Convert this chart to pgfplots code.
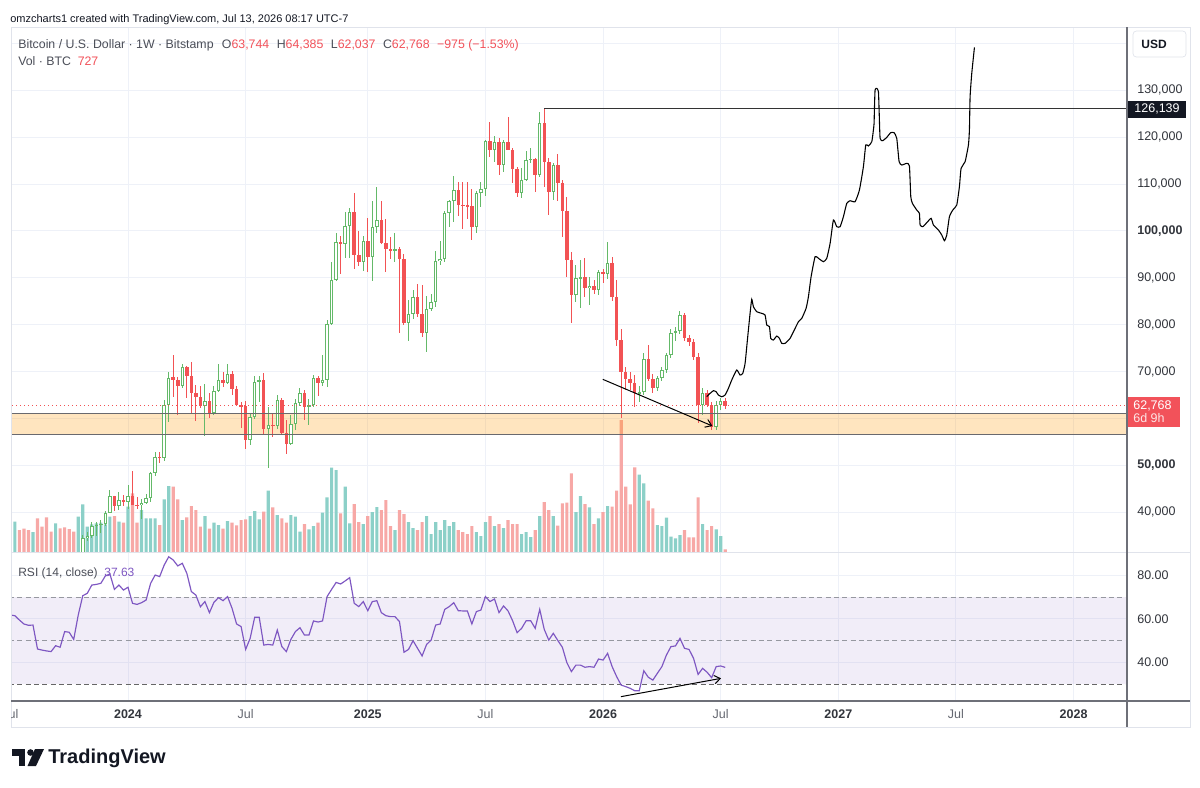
\documentclass[border=0pt]{standalone}
\usepackage{fontspec}
\setmainfont{Liberation Sans}
\usepackage{pgfplots}
\pgfplotsset{compat=1.18}
\usepackage{pgfplotstable}
\usetikzlibrary{arrows.meta}
\newcommand{\fsz}[1]{\fontsize{#1}{#1}\selectfont}
\definecolor{tvg}{RGB}{100,185,105}
\definecolor{tvr}{RGB}{242,82,84}
\definecolor{vg}{RGB}{140,208,200}
\definecolor{vr}{RGB}{247,168,166}
\definecolor{gridc}{RGB}{238,241,248}
\definecolor{framec}{RGB}{224,227,235}
\definecolor{axc}{RGB}{110,112,120}
\definecolor{txt}{RGB}{19,23,34}
\definecolor{lg}{RGB}{75,78,88}
\definecolor{lbl}{RGB}{50,53,60}
\definecolor{julc}{RGB}{100,103,112}
\definecolor{rsic}{RGB}{126,87,194}
\definecolor{tvorange}{RGB}{255,152,0}
\definecolor{zline}{RGB}{105,105,110}
\definecolor{redlab}{RGB}{242,82,90}
\definecolor{dashc}{RGB}{150,152,160}

% candles: k open high low close (thousand USD)
\pgfplotstableread{
k o h l c
-10 30.0 35.2 29.9 34.5
-9 34.5 35.9 33.9 35.0
-8 35.0 37.9 34.5 37.1
-7 37.1 37.9 35.0 37.4
-6 37.4 38.4 35.7 37.5
-5 37.5 40.2 37.2 39.9
-4 39.9 44.7 39.9 43.6
-2 41.3 44.3 40.6 42.6
0 42.2 45.8 40.8 43.6
3 41.5 42.9 38.5 42.0
4 42.0 43.9 41.8 43.0
5 43.0 48.6 42.3 48.3
6 48.3 52.8 47.7 51.9
8 51.7 63.9 50.9 62.9
9 62.9 69.9 59.3 68.6
12 66.9 71.6 66.6 71.0
17 62.7 67.4 56.3 63.8
19 61.2 67.0 60.7 65.9
20 65.9 71.6 65.8 68.2
22 67.5 71.6 67.4 69.5
27 55.4 61.2 54.3 60.3
28 60.3 69.1 60.0 67.9
29 67.9 69.1 63.5 68.3
31 57.8 62.5 49.5 58.7
33 58.5 65.0 57.8 64.0
36 54.6 60.7 54.5 58.8
37 58.8 64.1 57.5 63.3
38 63.3 66.5 62.7 65.4
40 62.5 64.2 58.6 62.9
41 62.9 69.4 62.5 68.7
43 67.6 73.5 66.9 68.3
44 68.3 81.0 66.7 80.1
45 80.1 93.4 80.0 89.5
46 89.5 99.5 89.4 97.6
48 97.2 104.0 94.3 101.1
49 101.1 105.0 94.2 104.0
52 93.3 99.0 91.5 97.9
54 94.5 106.3 89.3 100.9
55 100.9 109.3 99.5 102.3
59 95.8 99.5 93.3 96.2
62 80.4 85.3 76.6 82.4
63 82.4 87.5 81.2 86.0
66 78.2 86.1 74.3 83.3
67 83.3 86.5 83.0 84.9
68 84.9 95.8 83.9 93.5
69 93.5 97.9 92.8 94.0
70 94.0 104.3 93.4 103.8
71 103.8 106.6 100.8 106.3
72 106.3 111.7 102.0 108.7
77 100.8 108.5 99.6 108.0
78 108.0 110.5 105.1 108.9
79 108.9 119.5 107.5 119.1
81 117.3 120.2 114.7 119.0
83 114.1 119.3 112.6 119.0
87 108.0 113.4 107.0 110.9
88 110.9 117.1 110.6 115.1
89 115.1 117.7 114.4 115.4
91 112.0 125.4 111.5 123.1
94 108.4 114.5 106.7 114.1
99 86.3 92.8 84.9 89.9
100 89.9 93.8 83.5 90.2
102 87.8 90.2 84.2 88.3
104 87.4 91.7 86.4 91.2
106 90.8 97.6 89.8 93.2
113 65.4 67.0 63.5 65.6
114 65.6 74.0 65.0 72.8
117 66.5 69.0 65.8 68.6
118 68.6 71.0 68.0 70.4
119 70.4 74.0 69.8 73.6
120 73.6 79.0 73.0 78.2
121 78.2 79.5 76.5 78.6
122 78.6 83.0 78.0 82.1
127 62.9 66.5 60.8 65.4
130 58.3 63.8 57.6 63.0
131 63.0 64.5 61.8 63.744
}\candG

\pgfplotstableread{
k o h l c
-3 43.6 43.6 40.2 41.3
-1 42.6 43.8 41.4 42.2
1 43.6 48.8 41.5 41.6
2 41.6 43.2 40.7 41.5
7 51.9 52.9 50.6 51.7
10 68.8 73.6 64.6 68.3
11 68.3 68.9 60.8 66.9
13 71.0 71.3 64.5 69.1
14 69.1 72.0 61.2 65.5
15 65.5 67.2 59.5 64.6
16 64.6 66.9 62.3 62.7
18 63.8 65.5 60.2 61.2
21 68.2 70.0 66.7 67.5
23 69.5 70.1 65.1 66.3
24 66.3 66.9 62.6 62.9
25 62.9 63.5 58.0 62.6
26 62.6 63.8 53.5 55.4
30 68.3 69.7 56.7 57.8
32 58.7 61.0 56.1 58.5
34 64.0 64.5 56.7 56.9
35 56.9 59.7 52.5 54.6
39 65.4 66.1 59.7 62.5
42 68.7 69.1 64.9 67.6
47 97.6 99.0 90.8 97.2
50 104.0 108.0 92.0 94.9
51 94.9 99.9 92.6 93.3
53 97.9 102.7 91.2 94.5
56 102.3 106.5 97.2 97.4
57 97.4 102.5 91.2 96.1
58 96.1 98.8 94.1 95.8
60 96.2 96.5 78.2 94.0
61 94.0 95.0 80.0 80.4
64 86.0 88.8 81.6 82.3
65 82.3 88.5 77.5 78.2
73 108.7 110.4 103.1 105.5
74 105.5 110.5 100.4 105.4
75 105.4 110.4 102.6 105.3
76 105.3 108.9 98.1 100.8
80 119.1 123.2 115.7 117.3
82 119.0 119.8 111.9 114.1
84 119.0 124.2 117.2 117.3
85 117.3 117.6 110.2 113.2
86 113.2 113.7 107.3 108.0
90 115.4 115.5 108.4 112.0
92 123.1 126.14 109.4 114.8
93 114.8 115.6 103.4 108.4
95 114.1 116.4 106.3 110.3
96 110.3 110.8 98.8 104.3
97 104.3 107.3 90.2 93.8
98 93.8 95.6 80.3 86.3
101 90.2 94.3 86.0 87.8
103 88.3 89.5 86.5 87.4
105 91.2 92.0 89.0 90.8
107 93.2 94.5 85.0 86.0
108 86.0 89.5 75.5 76.8
109 76.8 79.0 60.2 70.0
110 70.0 71.1 66.1 68.4
111 68.4 69.9 66.0 67.5
112 67.5 69.3 62.5 65.4
115 72.8 75.7 68.0 68.5
116 68.5 69.5 65.5 66.5
123 82.1 82.6 76.5 77.1
124 77.1 77.8 75.5 76.4
125 76.4 77.0 72.5 73.2
126 73.2 74.0 59.0 62.9
128 65.4 66.0 62.5 62.9
129 62.9 63.5 57.6 58.3
132 63.744 64.385 62.037 62.768
}\candR

% volume (relative units)
\pgfplotstableread{
k v
-25 30.3
-21 20
-16 28.7
-11 35.3
-10 47.7
-9 25.3
-8 27.7
-7 28.7
-6 29.3
-5 27.7
-4 35.3
-2 30.3
0 45.3
3 42
4 33.7
5 33.7
6 33.7
8 52.7
9 66
12 32
17 36
19 29.3
20 27
22 31
27 36
28 41
29 32.7
31 61.3
33 37
36 37
37 35.3
38 20.3
40 22.7
41 26
43 39.3
44 54.7
45 84.3
46 82
48 65.3
49 28.7
52 28
54 40
55 45
59 22
62 30
63 24
66 36
67 18
68 30
69 22
70 32
71 26
72 30
77 20
78 16
79 30
81 26
83 24
87 18
88 20
89 15
91 36
94 36
99 40
100 56
102 44.7
104 33.7
106 46
113 77.3
114 68.7
117 27
118 26
119 34.3
120 15.3
121 13.7
122 17
127 28
130 22.7
131 16
}\volG

\pgfplotstableread{
k v
-24 22
-23 23.3
-22 22
-20 33.7
-19 25.3
-18 34.7
-17 20.3
-15 23.7
-14 24.7
-13 23
-12 20.3
-3 36
-1 29.3
1 58.7
2 29.3
7 27
10 65.3
11 52.7
13 34.7
14 46
15 42
16 25.3
18 23.3
21 23.3
23 29.3
24 26.7
25 32
26 32.7
30 40.3
32 44.7
34 33.7
35 29.3
39 28
42 29.3
47 38.7
50 48
51 30
53 36
56 42
57 52
58 26
60 42
61 38
64 22
65 30
73 22
74 20
75 18
76 26
80 36
82 28
84 32
85 28
86 28
90 22
92 50
93 42
95 26.3
96 48.7
97 49.3
98 78.7
101 48
103 28
105 40
107 45.3
108 61.3
109 132
110 65.3
111 47.7
112 84.7
115 51.3
116 43.7
123 22
124 14.7
125 14.7
126 54.7
128 22
129 26
132 2.7
}\volR

\pgfplotsset{
  tvax/.style={scale only axis, width=669.6pt, xmin=-25.86, xmax=220.8,
    axis line style={draw=none}, tick style={draw=none}, major tick length=0pt,
    anchor=north west, grid style={gridc, line width=0.6pt},
    xtick={0,26,53,79,105,131,157,183,209}, xmajorgrids, ymajorgrids,
    yticklabel pos=right,
    yticklabel style={anchor=west, inner sep=0pt, xshift=6pt, font=\fsz{7.5pt}, text=lbl}},
  cbar/.style 2 args={draw=none, mark=none, forget plot, error bars/.cd, y dir=both, y explicit,
    error mark=none, error bar style={line width=#2, draw=#1, solid}},
}

\begin{document}
\begin{tikzpicture}
\begin{scope}[x=0.6pt,y=-0.6pt]
\fill[white] (0,0) rectangle (1200,787);
\end{scope}

%================ PRICE PANEL =================
\begin{axis}[tvax, at={(6.6pt,-16.2pt)}, height=315pt, ymin=31.56, ymax=143.49,
  xticklabels={},
  ytick={40,50,70,80,90,100,110,120,130},
  yticklabels={{\textnormal{40,000}},{\textbf{50,000}},{\textnormal{70,000}},{\textnormal{80,000}},{\textnormal{90,000}},{\textbf{100,000}},{\textnormal{110,000}},{\textnormal{120,000}},{\textnormal{130,000}}},
  extra y ticks={60,140}, extra y tick labels={\empty,\empty}, extra y tick style={grid=major}]

% volume
\addplot[ybar, bar width=1.9pt, bar shift=0pt, fill=vg, draw=none, forget plot]
  table[x=k, y expr=31.56+0.2132*\thisrow{v}] {\volG};
\addplot[ybar, bar width=1.9pt, bar shift=0pt, fill=vr, draw=none, forget plot]
  table[x=k, y expr=31.56+0.2132*\thisrow{v}] {\volR};

% support zone
\addplot[tvorange, opacity=0.25, line width=12.58pt, forget plot] coordinates {(-30,58.895) (230,58.895)};

% wicks
\addplot[cbar={tvg}{0.6pt}] table[x=k, y=o, y error plus expr=\thisrow{h}-\thisrow{o}, y error minus expr=\thisrow{o}-\thisrow{l}] {\candG};
\addplot[cbar={tvr}{0.6pt}] table[x=k, y=o, y error plus expr=\thisrow{h}-\thisrow{o}, y error minus expr=\thisrow{o}-\thisrow{l}] {\candR};
% bodies
\addplot[cbar={tvg}{2.1pt}] table[x=k, y expr=(\thisrow{o}+\thisrow{c})/2, y error expr={max(abs(\thisrow{c}-\thisrow{o})/2,0.12)}] {\candG};
\addplot[cbar={white}{0.9pt}] table[x=k, y expr=(\thisrow{o}+\thisrow{c})/2, y error expr={max(abs(\thisrow{c}-\thisrow{o})/2-0.2132,0)}] {\candG};
\addplot[cbar={tvr}{2.1pt}] table[x=k, y expr=(\thisrow{o}+\thisrow{c})/2, y error expr={max(abs(\thisrow{c}-\thisrow{o})/2,0.12)}] {\candR};

% lines
\addplot[zline, line width=0.75pt, forget plot] coordinates {(-30,61.13) (230,61.13)};
\addplot[zline, line width=0.75pt, forget plot] coordinates {(-30,56.66) (230,56.66)};
\addplot[tvr, line width=0.6pt, dash pattern=on 0.6pt off 1.8pt, forget plot] coordinates {(-30,62.768) (230,62.768)};
\addplot[black!80, line width=0.75pt, forget plot] coordinates {(92,126.139) (230,126.139)};

% projection path
\addplot[black, line width=0.65pt, smooth, tension=0.3, forget plot] coordinates {
(127.91,64.67) (128.65,65.38) (129.39,65.95) (129.98,65.74) (130.49,65.03) (131.23,64.67) (131.97,65.03) (132.70,66.45) (133.44,68.23) (134.54,70.36) (135.28,69.29) (135.87,69.65) (136.39,71.78) (136.90,76.76) (137.49,82.44) (137.86,85.43) (138.23,83.86) (138.97,82.79) (140.07,82.44) (140.81,82.08) (141.18,79.95) (141.77,79.60) (142.06,77.11) (142.65,76.76) (143.39,77.61) (143.98,77.11) (144.49,76.05) (145.23,76.05) (146.33,77.11) (147.44,79.24) (148.18,80.66) (148.91,81.37) (149.87,83.51) (150.39,86.00) (150.98,90.26) (151.86,94.52) (152.60,94.17) (153.70,93.46) (154.44,94.17) (155.18,97.36) (155.91,102.34) (156.65,100.92) (157.39,100.92) (158.12,103.05) (158.86,105.89) (159.60,106.46) (160.70,106.25) (161.66,108.74) (162.54,113.71) (163.06,118.33) (163.65,118.12) (164.39,119.04) (164.75,121.53) (164.90,122.95) (164.97,125.79) (165.12,130.06) (165.49,130.41) (165.86,129.70) (166.01,125.79) (166.23,119.75) (166.82,119.25) (167.70,119.97) (168.58,120.96) (169.32,120.96) (169.91,119.75) (170.43,114.78) (171.02,114.07) (172.12,114.42) (172.71,113.85) (173.01,107.32) (173.37,105.89) (174.33,104.47) (174.92,103.76) (175.07,101.27) (175.66,100.92) (176.54,101.77) (177.50,102.70) (178.02,101.27) (179.12,100.21) (179.86,99.14) (180.45,97.93) (180.96,99.14) (181.55,103.05) (182.29,104.47) (183.17,105.54) (183.76,109.45) (184.13,113.36) (185.02,114.78) (185.75,118.33) (185.97,121.53) (186.12,128.64) (186.49,133.61) (187.08,139.15)};

% divergence arrow
\addplot[black, line width=0.6pt, -{Straight Barb[length=3.5pt,width=5pt]}, forget plot] coordinates {(104.93,68.38) (129.16,58.43)};
\end{axis}

%================ RSI PANEL =================
\begin{axis}[tvax, at={(6.6pt,-331.2pt)}, height=89.4pt, ymin=22.18, ymax=90.69,
  ytick={40,60,80}, yticklabels={{\textnormal{40.00}},{\textnormal{60.00}},{\textnormal{80.00}}},
  xticklabels={{\textbf{2024}},{\textcolor{julc}{Jul}},{\textbf{2025}},{\textcolor{julc}{Jul}},{\textbf{2026}},{\textcolor{julc}{Jul}},{\textbf{2027}},{\textcolor{julc}{Jul}},{\textbf{2028}}},
  xticklabel style={anchor=base, yshift=-10.2pt, font=\fsz{7.5pt}, text=lbl}]
\addplot[rsic, opacity=0.1, line width=52.2pt, forget plot] coordinates {(-30,50) (230,50)};
\addplot[dashc, line width=0.6pt, dash pattern=on 3pt off 2pt, forget plot] coordinates {(-30,70) (230,70)};
\addplot[dashc, line width=0.6pt, dash pattern=on 3pt off 2pt, forget plot] coordinates {(-30,50) (230,50)};
\addplot[black!60, line width=0.6pt, dash pattern=on 3pt off 2pt, forget plot] coordinates {(-30,30) (230,30)};
\addplot[rsic, line width=0.7pt, forget plot] coordinates {
(-26,61.7) (-25,61.4) (-24,59.4) (-23,57.6) (-22,57.0) (-21,57.1) (-20,46.1) (-19,45.6) (-18,45.2) (-17,44.9) (-16,47.6) (-15,46.9) (-14,54.1) (-13,53.8) (-12,50.5) (-11,61.7) (-10,70.6) (-9,71.7) (-8,75.5) (-7,75.8) (-6,76.3) (-5,79.7) (-4,80.6) (-3,73.5) (-2,75.5) (-1,73.2) (0,74.5) (1,67.1) (2,66.6) (3,67.4) (4,68.6) (5,76.3) (6,80.1) (7,79.4) (8,84.7) (9,88.5) (10,87.0) (11,84.3) (12,85.5) (13,80.9) (14,72.5) (15,70.9) (16,65.5) (17,67.9) (18,62.8) (19,67.6) (20,69.7) (21,68.3) (22,70.2) (23,64.8) (24,57.6) (25,56.4) (26,45.9) (27,51.0) (28,60.7) (29,60.7) (30,47.9) (31,48.2) (32,47.9) (33,54.8) (34,47.2) (35,44.9) (36,50.5) (37,54.1) (38,55.9) (39,52.5) (40,52.5) (41,59.0) (42,58.5) (43,59.0) (44,70.2) (45,73.5) (46,76.7) (47,76.0) (48,77.4) (49,78.9) (50,67.1) (51,65.6) (52,67.9) (53,63.7) (54,67.9) (55,68.3) (56,62.8) (57,61.4) (58,61.0) (59,61.0) (60,58.7) (61,44.6) (62,45.9) (63,49.9) (64,46.4) (65,42.9) (66,48.2) (67,50.2) (68,57.1) (69,57.6) (70,64.3) (71,65.6) (72,67.4) (73,63.7) (74,63.6) (75,63.6) (76,57.6) (77,63.3) (78,64.0) (79,70.2) (80,67.9) (81,69.1) (82,62.8) (83,65.9) (84,63.6) (85,59.1) (86,53.6) (87,55.6) (88,59.1) (89,59.1) (90,55.6) (91,64.3) (92,55.1) (93,50.2) (94,53.3) (95,50.0) (96,46.9) (97,39.8) (98,35.7) (99,38.7) (100,38.7) (101,37.7) (102,38.0) (103,37.7) (104,41.5) (105,41.0) (106,44.1) (107,38.0) (108,33.4) (109,29.5) (110,28.8) (111,28.0) (112,26.9) (113,26.9) (114,36.1) (115,33.1) (116,31.8) (117,34.9) (118,38.0) (119,43.3) (120,47.2) (121,47.5) (122,51.0) (123,46.4) (124,45.9) (125,41.8) (126,34.4) (127,37.2) (128,35.4) (129,32.9) (130,38.0) (131,38.3) (132,37.63)};
\addplot[black, line width=0.6pt, -{Straight Barb[length=3.5pt,width=5pt]}, forget plot] coordinates {(108.95,24.18) (131.08,32.6)};
\end{axis}

%================ DECORATION (pixel units) =================
\begin{scope}[x=0.6pt,y=-0.6pt]
\draw[framec, line width=0.6pt] (11,27) rectangle (1190,727);
\draw[framec, line width=0.6pt] (11,552) -- (1190,552);
\draw[axc, line width=0.7pt] (1127,27) -- (1127,727);
\draw[axc, line width=0.7pt] (11,701) -- (1190,701);
\begin{scope}
\clip (11,703) rectangle (60,726);
\node[anchor=base, inner sep=0pt, font=\fsz{7.5pt}, text=julc] at (10.4,718) {Jul};
\end{scope}

\node[anchor=base west, inner sep=0pt, font=\fsz{6.6pt}, text=txt] at (10,22) {omzcharts1 created with TradingView.com, Jul 13, 2026 08:17 UTC-7};
\node[anchor=base west, inner sep=0pt, font=\fsz{7.4pt}, text=lg] at (18,48) {Bitcoin / U.S. Dollar · 1W · Bitstamp\hspace{5pt}O\textcolor{redlab}{63,744}\hspace{4.5pt}H\textcolor{redlab}{64,385}\hspace{4.5pt}L\textcolor{redlab}{62,037}\hspace{4.5pt}C\textcolor{redlab}{62,768}\hspace{4.5pt}\textcolor{redlab}{−975 (−1.53\%)}};
\node[anchor=base west, inner sep=0pt, font=\fsz{7.4pt}, text=lg] at (18,65) {Vol · BTC\hspace{4pt}\textcolor{redlab}{727}};
\node[anchor=base west, inner sep=0pt, font=\fsz{7.2pt}, text=lg] at (18,576) {RSI (14, close)\hspace{4pt}\textcolor{rsic}{37.63}};

% right scale boxes
\draw[framec, fill=white, rounded corners=2pt] (1133,31) rectangle (1186,57);
\node[inner sep=0pt, font=\fsz{7.2pt}\bfseries, text=txt] at (1154,44) {USD};
\fill[txt] (1128,100.5) rectangle (1186,117.5);
\node[inner sep=0pt, font=\fsz{7.5pt}, text=white] at (1157,109) {126,139};
\fill[redlab] (1128,397) rectangle (1180,427);
\node[anchor=base west, inner sep=0pt, font=\fsz{7.5pt}, text=white] at (1133,409) {62,768};
\node[anchor=base west, inner sep=0pt, font=\fsz{7.5pt}, text=white!85!redlab] at (1133,422) {6d 9h};

% TradingView logo
\fill[txt] (12,749) rectangle (25,755.5);
\fill[txt] (18.5,749) rectangle (25,766);
\fill[txt] (30.5,752.5) circle (3.3);
\fill[txt] (35,749) -- (44,749) -- (36,766) -- (27.5,766) -- cycle;
\node[anchor=base west, inner sep=0pt, font=\fsz{12pt}\bfseries, text=txt] at (48,763) {TradingView};
\end{scope}
\pgfresetboundingbox
\path[use as bounding box] (0,0) rectangle (720pt,-472.2pt);
\end{tikzpicture}
\end{document}
